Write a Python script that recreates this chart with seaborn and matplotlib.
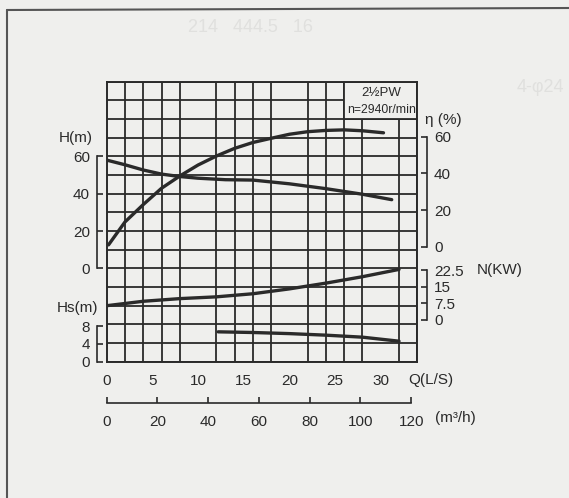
import numpy as np
import seaborn as sns
import matplotlib.pyplot as plt
from matplotlib.patches import Rectangle
from matplotlib.lines import Line2D

# pump curves, Q in L/s
q_head = [0, 2, 4, 6, 8, 10, 13, 16, 20, 24, 28, 31.2]
head = [58, 55.5, 52.7, 50.5, 49.2, 48.3, 47.5, 47.3, 45.3, 42.7, 39.7, 36.8]

q_eff = [0.2, 2, 4, 6, 8, 10, 12, 14, 16, 18, 20, 22, 24, 26, 28, 30.3]
eff = [1, 13.5, 23, 31.9, 38.6, 44.6, 49.5, 53.7, 56.9, 59.2, 61.4, 62.8, 63.5, 63.8, 63.3, 62.2]

q_power = [0, 4, 8, 12, 16, 20, 24, 28, 32]
power = [6.4, 8.4, 9.6, 10.4, 11.8, 14.0, 16.6, 19.5, 22.8]

q_npsh = [12.2, 16, 20, 24, 28, 32]
npsh = [6.7, 6.55, 6.3, 5.95, 5.5, 4.6]

q_ticks = [0, 5, 10, 15, 20, 25, 30]
m3h_ticks = [0, 20, 40, 60, 80, 100, 120]
h_ticks = [0, 20, 40, 60]
eff_ticks = [0, 20, 40, 60]
power_ticks = [0, 7.5, 15, 22.5]
power_labels = ["0", "7.5", "15", "22.5"]
npsh_ticks = [0, 4, 8]

sns.set_style("white")
plt.rcParams["font.family"] = ["Liberation Sans", "DejaVu Sans"]

ink = "#2a2a2a"
bg = "#efefed"
W, H = 569, 498


def px(x, y):
    return x / W, 1 - y / H


fig = plt.figure(figsize=(5.69, 4.98), dpi=100, facecolor=bg)

# faint show-through from the back of the page
fig.text(*px(250, 28), "214   444.5   16", color="#e0e0de", fontsize=13, ha="center", va="center")
fig.text(*px(540, 88), "4-φ24", color="#e0e0de", fontsize=13, ha="center", va="center")

# scan frame
fig.add_artist(Line2D([px(7, 0)[0], px(7, 0)[0]], [px(0, 10)[1], 0], color="#555555", lw=1.5))
fig.add_artist(Line2D([px(7, 0)[0], 1], [px(0, 10)[1], px(0, 8)[1]], color="#555555", lw=1.5))

rect = [106.7 / W, 1 - 361.7 / H, 310.6 / W, 280 / H]
ax = fig.add_axes(rect)
ax.set_facecolor(bg)
ax.set_xlim(0, 34)
ax.set_ylim(-50, 100)
ax.set_xticks(q_ticks)
ax.set_xticks(np.arange(0, 35, 2), minor=True)
ax.set_yticks([])
ax.set_yticks(np.arange(-50, 101, 10), minor=True)
ax.grid(False, which="major")
ax.grid(True, which="minor", color=ink, lw=1.3)
ax.tick_params(which="both", length=0)
ax.tick_params(axis="x", which="major", pad=9, labelsize=11, labelcolor=ink)
for s in ax.spines.values():
    s.set_visible(True)
    s.set_color(ink)
    s.set_linewidth(1.4)

# model label box in the top right corner
ax.add_patch(Rectangle((26, 80), 8, 20, facecolor=bg, edgecolor=ink, lw=1.3, zorder=2.2))
narrow = ["Liberation Sans Narrow", "Liberation Sans"]
ax.text(30, 93.8, "2½PW", ha="center", va="center", fontsize=9.5, family=narrow, color=ink, zorder=3)
ax.text(30.1, 84.8, "n=2940r/min", ha="center", va="center", fontsize=8.8, family=narrow, color=ink, zorder=3)

sns.lineplot(x=q_head, y=head, ax=ax, color=ink, lw=2.4, zorder=4)

# flow in m3/h under the L/s scale
sec = ax.secondary_xaxis(-0.1475, functions=(lambda q: q * 3.6, lambda m: m / 3.6))
sec.set_xticks(m3h_ticks)
sec.tick_params(direction="in", length=4, width=1.2, pad=9, labelsize=11, labelcolor=ink, color=ink)
sec.spines["bottom"].set_bounds(0, 120)
sec.spines["bottom"].set_color(ink)
sec.spines["bottom"].set_linewidth(1.2)


def side_axis(ylim, bounds, ticks, labels, side):
    a = fig.add_axes(rect)
    a.patch.set_visible(False)
    a.set_xlim(0, 34)
    a.set_ylim(*ylim)
    for s in a.spines.values():
        s.set_visible(False)
    sp = a.spines[side]
    sp.set_visible(True)
    sp.set_position(("outward", 7))
    sp.set_bounds(*bounds)
    sp.set_color(ink)
    sp.set_linewidth(1.2)
    a.yaxis.set_ticks_position(side)
    a.set_yticks(ticks, labels)
    a.tick_params(axis="y", direction="in", length=4, width=1.2, pad=5, labelsize=11,
                  labelcolor=ink, color=ink)
    a.xaxis.set_visible(False)
    a.grid(False)
    return a


ax_h = side_axis((-50, 100), (0, 60), h_ticks, [str(t) for t in h_ticks], "left")
ax_s = side_axis((0, 62.8), (0, 8), npsh_ticks, [str(t) for t in npsh_ticks], "left")
ax_e = side_axis((-62.8, 90.1), (0, 60), eff_ticks, [str(t) for t in eff_ticks], "right")
ax_n = side_axis((-18.9, 107.6), (0, 22.5), power_ticks, power_labels, "right")

sns.lineplot(x=q_eff, y=eff, ax=ax_e, color=ink, lw=2.4)
sns.lineplot(x=q_power, y=power, ax=ax_n, color=ink, lw=2.4)
sns.lineplot(x=q_npsh, y=npsh, ax=ax_s, color=ink, lw=2.4)

lab = dict(fontsize=11, color=ink, va="center")
fig.text(*px(76, 138), "H(m)", ha="center", **lab)
fig.text(*px(78, 308), "Hs(m)", ha="center", **lab)
fig.text(*px(425, 120), "η (%)", ha="left", **lab)
fig.text(*px(477, 270), "N(KW)", ha="left", **lab)
fig.text(*px(408, 380), "Q(L/S)", ha="left", **lab)
fig.text(*px(435, 418), "(m³/h)", ha="left", **lab)

fig.savefig("out.png", dpi=100, facecolor=bg)
